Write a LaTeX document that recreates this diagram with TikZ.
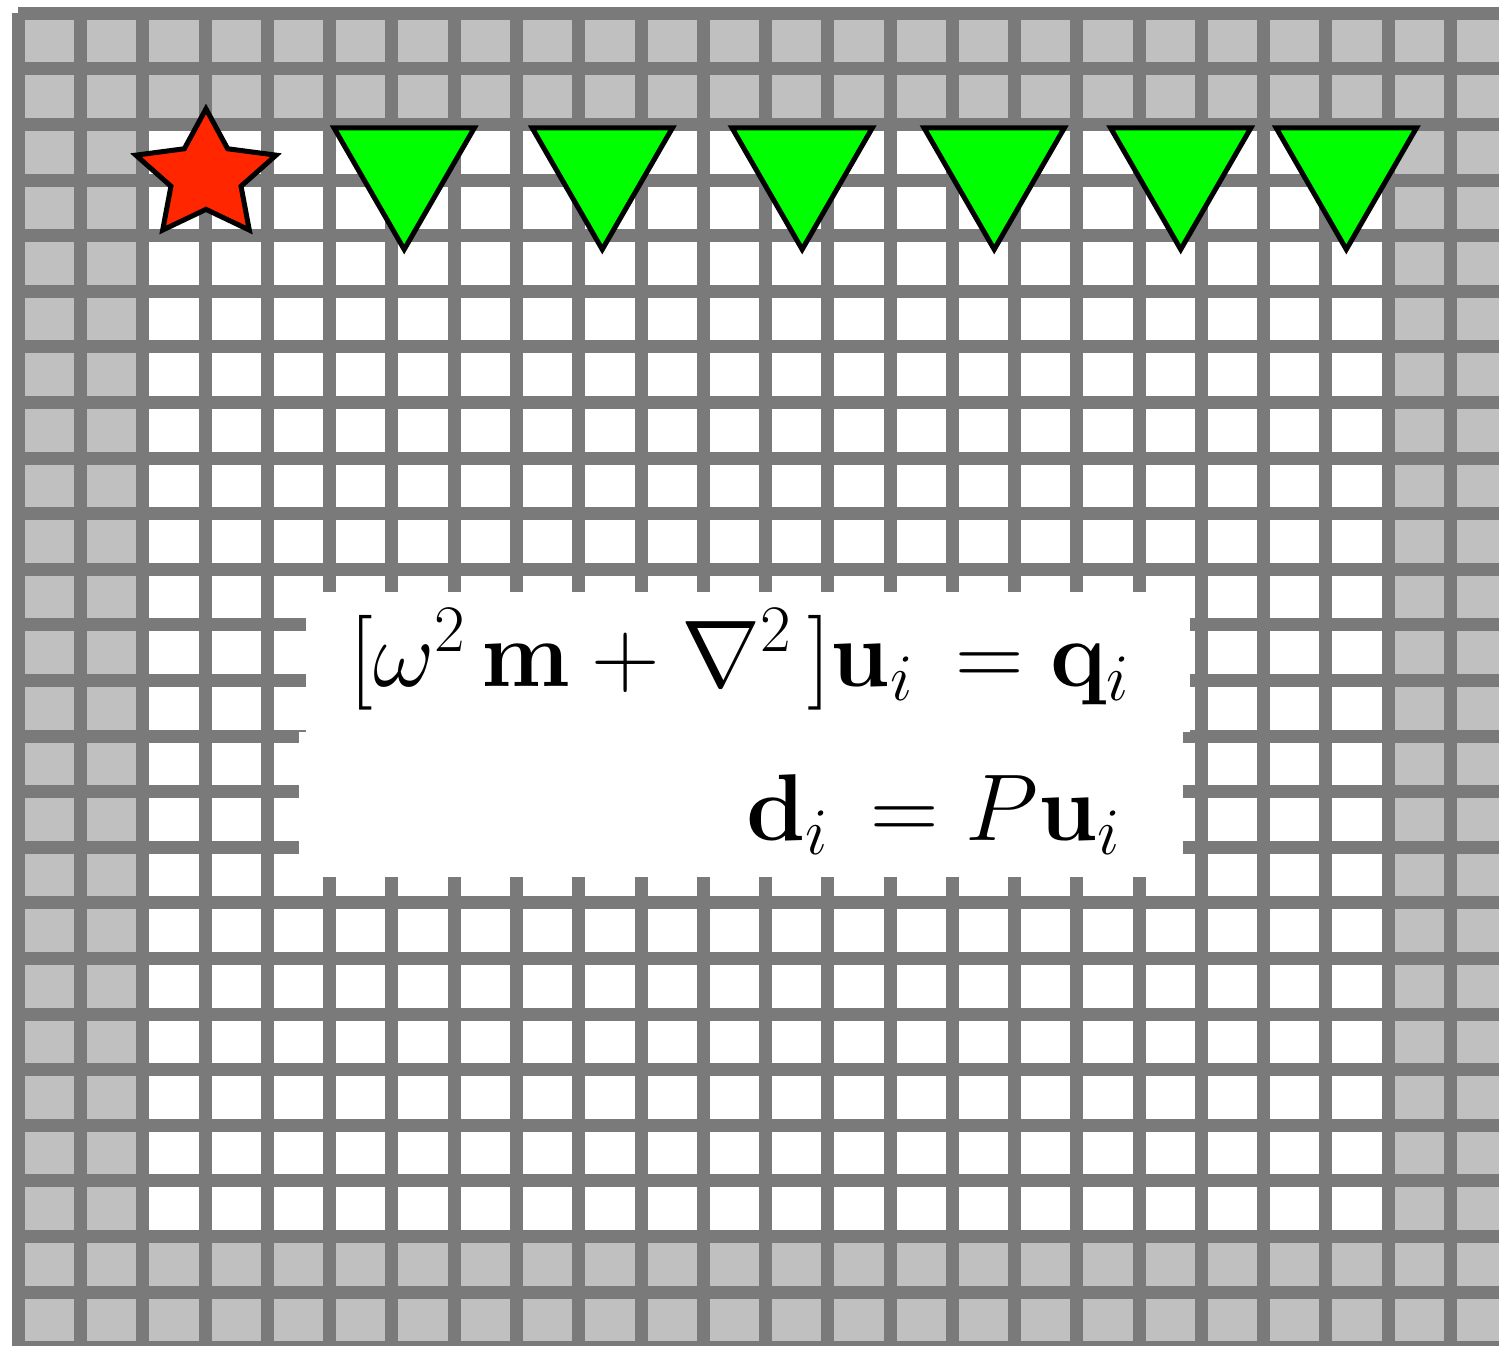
\RequirePackage{fix-cm}
\documentclass[tikz,border=0pt]{standalone}
\usepackage{amsmath,amssymb}
\usepackage{pgf, tikz}
\usetikzlibrary{shapes.geometric}
\pgfdeclarelayer{gridlayer}
\pgfdeclarelayer{nodelayer}
\pgfsetlayers{gridlayer,main,nodelayer}
\definecolor{cellgray}{RGB}{192,192,192}
\definecolor{linegray}{RGB}{122,122,122}
\definecolor{srcred}{RGB}{255,38,0}
\definecolor{recgreen}{RGB}{0,255,0}
\tikzstyle{gridline}=[draw=linegray, line width=0.26cm]
\tikzstyle{source}=[star, star points=5, star point ratio=2, fill=srcred, draw=black, line width=0.1cm, minimum size=2.68cm, inner sep=0pt, xscale=1.1, transform shape]
\tikzstyle{receiver}=[regular polygon, regular polygon sides=3, shape border rotate=180, fill=recgreen, draw=black, line width=0.1cm, minimum size=3.24cm, inner sep=0pt]
\tikzstyle{eqbox}=[rectangle, fill=white, anchor=north west, inner sep=0pt, minimum width=17.68cm]
\tikzstyle{eqtext}=[anchor=base east, inner sep=0pt, font=\fontsize{54}{65}\selectfont]

\begin{document}
\begin{tikzpicture}[x=1.245cm, y=1.112cm]
	\clip (-0.297, 0.031) rectangle (23.783, 24.239);
	\useasboundingbox (-0.297, 0.031) rectangle (23.783, 24.239);
	\begin{pgfonlayer}{gridlayer}
		\fill [cellgray] (0, 0) rectangle (24, 24);
		\fill [white] (2, 2) rectangle (22, 22);
		\foreach \i in {0,...,24} {
			\draw [style=gridline] (\i, 0) -- (\i, 24);
			\draw [style=gridline] (0, \i) -- (24, \i);
		}
	\end{pgfonlayer}
	\node [style=eqbox, minimum height=2.8cm] (7) at (4.619, 13.592) {};
	\node [style=eqbox, minimum height=2.9cm] (8) at (4.506, 11.074) {};
	\node [style=eqtext] (9) at (17.855, 11.901) {$[\omega^2\,\mathbf{m}+\nabla^2\,]\mathbf{u}_i\,=\mathbf{q}_i$};
	\node [style=eqtext] (10) at (17.711, 9.131) {$\mathbf{d}_i\,=P\mathbf{u}_i$};
	\begin{pgfonlayer}{nodelayer}
		\node [style=source] (0) at (3.012, 21.076) {};
		\node [style=receiver] (1) at (6.196, 21.21) {};
		\node [style=receiver] (2) at (9.378, 21.21) {};
		\node [style=receiver] (3) at (12.589, 21.21) {};
		\node [style=receiver] (4) at (15.674, 21.21) {};
		\node [style=receiver] (5) at (18.67, 21.21) {};
		\node [style=receiver] (6) at (21.33, 21.21) {};
	\end{pgfonlayer}
\end{tikzpicture}
\end{document}
